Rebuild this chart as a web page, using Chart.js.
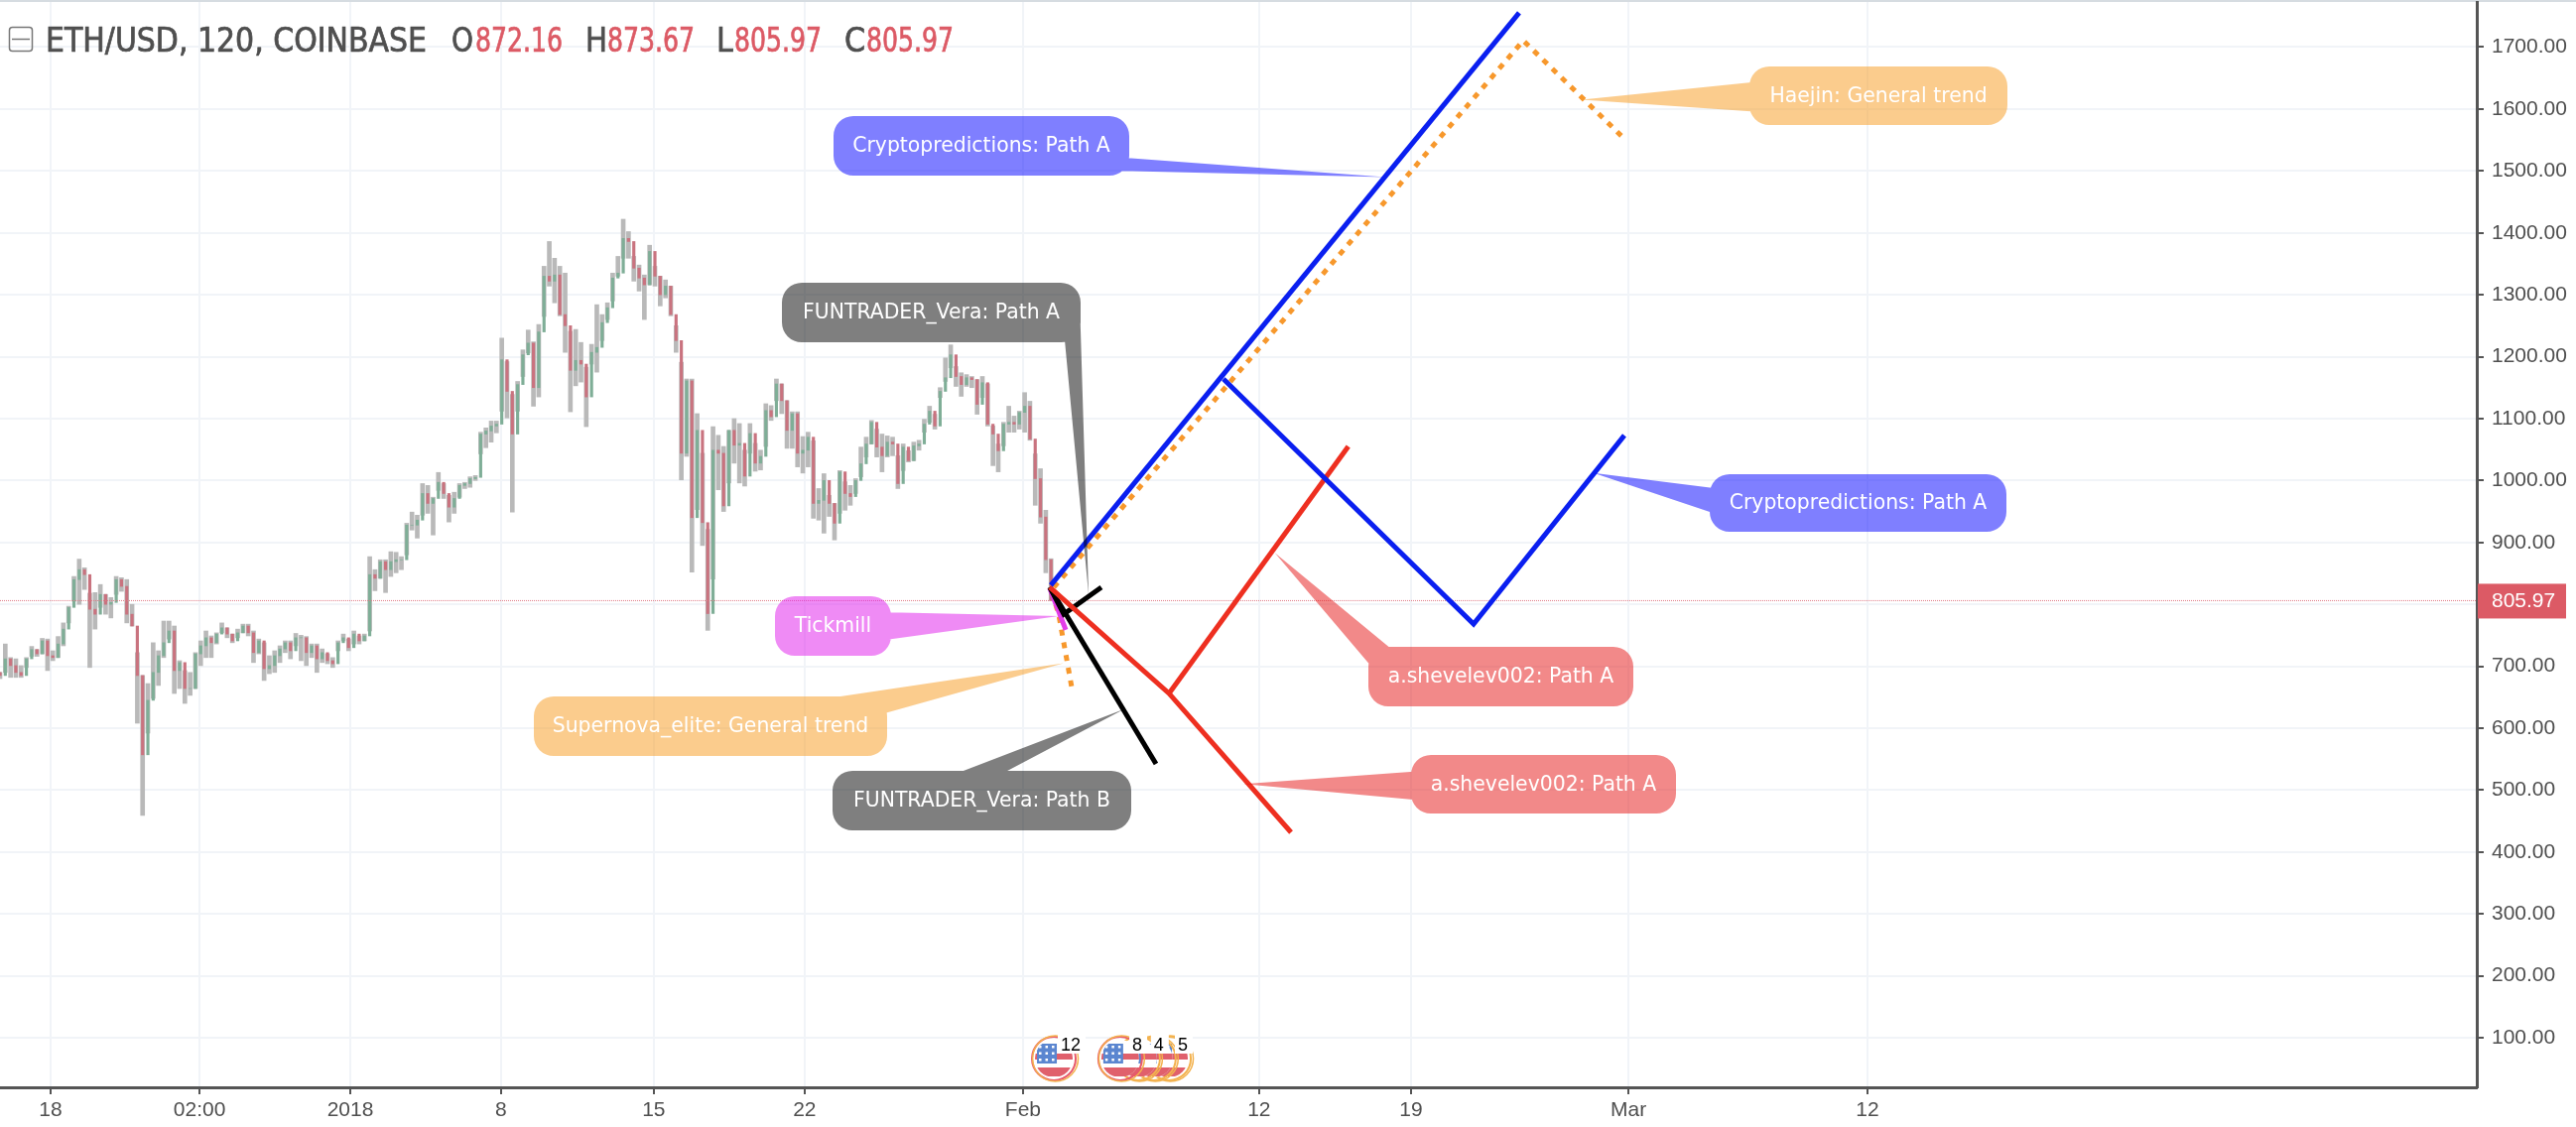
<!DOCTYPE html>
<html>
<head>
<meta charset="utf-8">
<title>ETH/USD</title>
<script src="https://cdn.jsdelivr.net/npm/chart.js@4/dist/chart.umd.min.js"></script>
<style>
    html, body { margin: 0; padding: 0; background: #fff; }
    canvas { display: block; }
</style>
</head>
<body>
<canvas id="chart" width="2596" height="1136"></canvas>
<script>
// price bars, one every barStep days
const closes = [
    685,712,701,690,685,712,727,720,741,717,714,736,760,795,840,856,848,792,784,816,800,803,840,829,784,765,685,557,645,690,717,738,757,693,706,664,664,720,733,746,738,752,762,752,741,754,765,754,722,741,696,
    701,717,728,738,725,746,746,722,733,712,722,709,704,738,746,730,752,741,749,848,842,869,856,869,872,872,928,928,936,979,963,971,997,979,957,971,992,995,1003,1005,1075,1080,1088,1091,1195,1144,1075,1155,1203,1222,1150,
    1240,1330,1322,1332,1268,1250,1178,1194,1188,1135,1207,1215,1255,1279,1327,1335,1391,1386,1343,1327,1316,1370,1330,1300,1314,1268,1226,1044,1161,940,1081,932,785,1049,1044,959,1081,1057,1060,1007,1076,1028,1039,1113,1103,1156,1129,1081,1108,1044,1049,
    1070,963,968,1000,963,931,1014,979,974,1000,1027,1059,1094,1054,1040,1062,1059,995,1054,1032,1056,1059,1091,1112,1088,1144,1166,1203,1168,1155,1166,1163,1123,1158,1091,1075,1048,1091,1094,1091,1110,1120,1067,1003,941,872.16,805.97
];
const highs = [
    690,736,714,712,701,714,732,727,745,744,725,748,770,797,845,873,859,818,819,832,816,811,845,843,840,800,722,685,672,738,725,773,773,765,709,693,690,722,741,757,749,754,770,762,752,760,768,768,757,744,738,
    717,725,733,741,741,753,750,748,736,736,728,720,714,741,752,744,757,749,752,877,856,872,872,885,884,877,931,949,944,995,992,973,1013,995,976,981,995,997,1006,1008,1078,1085,1096,1096,1230,1192,1139,1160,1211,1243,1224,
    1252,1346,1386,1359,1346,1335,1241,1244,1223,1183,1220,1284,1268,1287,1335,1362,1422,1402,1362,1348,1332,1380,1346,1330,1324,1314,1250,1191,1164,1164,1108,1044,921,1087,1073,1055,1081,1100,1092,1049,1092,1060,1049,1124,1121,1164,1156,1129,1111,1111,1071,
    1078,1064,987,1011,976,963,1016,998,992,1003,1054,1070,1097,1083,1075,1072,1070,1040,1059,1048,1062,1065,1099,1120,1107,1150,1198,1219,1184,1174,1171,1168,1163,1168,1156,1088,1059,1094,1120,1104,1112,1142,1128,1043,1019,952,873.67
];
const lows = [
    680,690,682,682,682,698,716,716,720,693,709,714,733,770,805,800,824,698,760,795,784,778,816,821,770,765,608,459,592,648,669,714,744,656,664,640,653,664,701,714,714,736,754,746,738,746,754,749,706,720,677,
    688,690,706,722,712,733,709,701,714,690,706,704,698,725,741,725,736,736,741,757,822,842,819,845,851,856,880,920,907,944,947,912,984,971,933,947,973,987,989,1000,1043,1053,1062,1077,1112,1101,949,1112,1168,1206,1120,
    1135,1265,1314,1287,1266,1207,1111,1153,1159,1087,1188,1175,1226,1260,1290,1330,1359,1359,1322,1306,1260,1316,1314,1282,1295,1266,1207,1001,1039,852,953,895,758,841,985,950,996,1028,996,991,1044,1015,1017,1055,1097,1129,1108,1052,1052,1022,1012,
    1022,939,936,915,942,904,947,952,960,979,1006,1038,1059,1038,1014,1038,1040,987,1016,1030,1032,1049,1078,1094,1083,1134,1160,1182,1152,1136,1152,1150,1107,1134,1088,1024,1014,1056,1078,1078,1083,1078,1065,960,931,851,805.97
];
const firstOpen = 690;
const lastPrice = 805.97;
const headerValues = ['872.16', '873.67', '805.97', '805.97'];

// axes: x is in days counted from 1 Jan 2018
const xTickDays = [-13.87, -6.98, 0, 6.98, 14.05, 21.03, 31.14, 42.07, 49.1, 59.17, 70.23];
const xTickLabels = ['18', '02:00', '2018', '8', '15', '22', 'Feb', '12', '19', 'Mar', '12'];
const yTickValues = [100, 200, 300, 400, 500, 600, 700, 800, 900, 1000, 1100, 1200, 1300, 1400, 1500, 1600, 1700];

// forecast paths as [day, price]
const blueRise = [[32.43, 830.8], [54.11, 1755.4]];
const blueSwing = [[40.42, 1164], [52.0, 768.3], [58.98, 1072.8]];
const orangeTrend = [[32.57, 827.6], [54.3, 1710.6], [59.03, 1550.3]];
const orangeDrop = [[32.48, 819.6], [32.8, 782.7], [33.39, 667.3]];
const redDrop = [[32.38, 827.6], [37.9, 656.1], [43.55, 431.7]];
const redRise = [[37.9, 656.1], [46.2, 1055]];
const blackPathA = [[32.38, 827.6], [33.03, 784.3], [34.77, 827.6]];
const blackPathB = [[32.38, 827.6], [37.3, 542.3]];
const magentaPath = [[32.38, 826], [33.12, 758.7]];

// economic event badges and the counts printed over them
const eventDays = [32.57, 35.64, 36.47, 37.2, 37.9];
const eventCountDays = [32.89, 36.2, 37.2, 38.31];
const eventCounts = ['12', '8', '4', '5'];

const BAR_START = -16.215;
const BAR_STEP = 0.2445;

const upColor = '#7fae97';
const downColor = '#c9737f';
const wickColor = '#b9b9b9';
const gridColor = '#f1f4f8';
const axisColor = '#555555';
const textColor = '#4f4f4f';
const priceRed = '#dc5a65';

const barDays = closes.map((_, i) => BAR_START + i * BAR_STEP);
const opens = closes.map((_, i) => (i === 0 ? firstOpen : closes[i - 1]));

// speech bubbles: rounded box in canvas px, tail tip as [day, price], tail root inside the box
const callouts = [
    { text: 'Cryptopredictions: Path A', fill: 'rgba(0,0,255,0.5)', box: [840, 117, 1138, 177], tip: [47.9, 1490], base: [[1120, 158], [1120, 172]] },
    { text: 'Haejin: General trend', fill: 'rgba(247,153,28,0.5)', box: [1763, 67, 2023, 126], tip: [57.0, 1615], base: [[1775, 82], [1775, 113]] },
    { text: 'Cryptopredictions: Path A', fill: 'rgba(0,0,255,0.5)', box: [1723, 478, 2022, 536], tip: [57.55, 1012], base: [[1735, 493], [1735, 520]] },
    { text: 'a.shevelev002: Path A', fill: 'rgba(229,19,19,0.5)', box: [1379, 652, 1646, 712], tip: [42.8, 883], base: [[1425, 673], [1400, 693]] },
    { text: 'a.shevelev002: Path A', fill: 'rgba(229,19,19,0.5)', box: [1422, 761, 1689, 820], tip: [41.35, 510], base: [[1435, 777], [1435, 807]] },
    { text: 'Supernova_elite: General trend', fill: 'rgba(247,153,28,0.5)', box: [538, 702, 894, 762], tip: [33.02, 705], base: [[800, 709], [870, 725]] },
    { text: 'FUNTRADER_Vera: Path B', fill: 'rgba(0,0,0,0.5)', box: [839, 777, 1140, 837], tip: [35.83, 631], base: [[950, 785], [1000, 785]] },
    { text: 'FUNTRADER_Vera: Path A', fill: 'rgba(0,0,0,0.5)', box: [788, 285, 1089, 345], tip: [34.18, 815], base: [[1069, 300], [1088, 300]] },
    { text: 'Tickmill', fill: 'rgba(224,24,236,0.5)', box: [781, 601, 898, 661], tip: [32.8, 781], base: [[885, 617], [885, 646]] }
];

function toPoints(pairs) {
    return pairs.map(([x, y]) => ({ x, y }));
}

function pathDataset(pairs, color, width, dash) {
    return {
        type: 'line',
        data: toPoints(pairs),
        borderColor: color,
        borderWidth: width,
        borderDash: dash || [],
        borderCapStyle: 'butt',
        pointRadius: 0,
        tension: 0,
        order: 1
    };
}

const calloutPlugin = {
    id: 'callouts',
    afterDatasetsDraw(chart) {
        const { ctx, scales } = chart;
        callouts.forEach(c => {
            const [x0, y0, x1, y1] = c.box;
            const tipX = scales.x.getPixelForValue(c.tip[0]);
            const tipY = scales.y.getPixelForValue(c.tip[1]);
            let [a, b] = c.base;
            // keep the tail wound the same way as the box so the overlap stays filled
            const turn = (b[0] - a[0]) * (tipY - a[1]) - (b[1] - a[1]) * (tipX - a[0]);
            if (turn < 0) [a, b] = [b, a];
            ctx.save();
            ctx.fillStyle = c.fill;
            ctx.beginPath();
            ctx.roundRect(x0, y0, x1 - x0, y1 - y0, 20);
            ctx.moveTo(a[0], a[1]);
            ctx.lineTo(b[0], b[1]);
            ctx.lineTo(tipX, tipY);
            ctx.closePath();
            ctx.fill();
            ctx.fillStyle = '#ffffff';
            ctx.font = '20.4px "DejaVu Sans"';
            ctx.textAlign = 'center';
            ctx.textBaseline = 'middle';
            ctx.fillText(c.text, (x0 + x1) / 2, (y0 + y1) / 2 + 1);
            ctx.restore();
        });
    }
};

// small US flag badge inside a ring
function drawEventBadge(ctx, x, y, ringColor) {
    ctx.save();
    ctx.beginPath();
    ctx.arc(x, y, 19, 0, Math.PI * 2);
    ctx.clip();
    ctx.fillStyle = '#fff';
    ctx.fillRect(x - 20, y - 20, 40, 40);
    ctx.fillStyle = '#e0606c';
    ctx.fillRect(x - 20, y - 5, 40, 6);
    ctx.fillRect(x - 20, y + 9, 40, 9);
    ctx.fillStyle = '#5b86d0';
    ctx.fillRect(x - 17, y - 15, 20, 20);
    ctx.fillStyle = '#fff';
    for (let r = 0; r < 3; r++) {
        for (let c = 0; c < 3; c++) {
            ctx.fillRect(x - 15 + c * 6.5, y - 13 + r * 6.5, 2.5, 2.5);
        }
    }
    ctx.restore();
    ctx.strokeStyle = ringColor;
    ctx.lineWidth = 2;
    ctx.beginPath();
    ctx.arc(x, y, 22, 0, Math.PI * 2);
    ctx.stroke();
    ctx.strokeStyle = '#f3b24e';
    ctx.lineWidth = 1.5;
    ctx.beginPath();
    ctx.arc(x + 1.5, y, 23, 0, Math.PI * 2);
    ctx.stroke();
}

const decorPlugin = {
    id: 'decor',
    beforeDraw(chart) {
        const { ctx } = chart;
        ctx.save();
        ctx.fillStyle = '#fff';
        ctx.fillRect(0, 0, chart.width, chart.height);
        ctx.fillStyle = '#d6dce1';
        ctx.fillRect(0, 0, chart.width, 2);
        ctx.restore();
    },
    afterDraw(chart) {
        const { ctx, scales } = chart;
        ctx.save();

        // collapse button and symbol header
        ctx.strokeStyle = '#777';
        ctx.lineWidth = 1.5;
        ctx.beginPath();
        ctx.roundRect(9.5, 27.5, 23, 24, 3);
        ctx.moveTo(12, 39.5);
        ctx.lineTo(30, 39.5);
        ctx.stroke();

        ctx.textBaseline = 'alphabetic';
        ctx.textAlign = 'left';
        ctx.font = '33.5px "DejaVu Sans Condensed"';
        ctx.lineWidth = 0.7;
        const heavyText = (str, x, color, maxWidth) => {
            ctx.fillStyle = color;
            ctx.strokeStyle = color;
            ctx.fillText(str, x, 52, maxWidth);
            ctx.strokeText(str, x, 52, maxWidth);
        };
        heavyText('ETH/USD, 120, COINBASE', 46, textColor, 384);
        [['O', 455, 479], ['H', 590, 612], ['L', 722, 740], ['C', 851, 873]].forEach(([name, nameX, valueX], i) => {
            heavyText(name, nameX, textColor, 22);
            heavyText(headerValues[i], valueX, priceRed, 88);
        });

        // last price tag on the axis
        const tagY = scales.y.getPixelForValue(lastPrice);
        ctx.fillStyle = priceRed;
        ctx.fillRect(2497, tagY - 17, 89, 35);
        ctx.fillStyle = '#fff';
        ctx.font = '21px "Liberation Sans"';
        ctx.textAlign = 'left';
        ctx.textBaseline = 'middle';
        ctx.fillText(lastPrice.toFixed(2), 2511, tagY + 1);

        // event badges sit just above the time axis, later ones underneath
        for (let i = eventDays.length - 1; i >= 0; i--) {
            drawEventBadge(ctx, scales.x.getPixelForValue(eventDays[i]), 1067, i < 2 ? '#e8596a' : '#f3b24e');
        }
        ctx.font = '18px "Liberation Sans"';
        ctx.textAlign = 'left';
        eventCounts.forEach((count, i) => {
            const x = scales.x.getPixelForValue(eventCountDays[i]);
            ctx.fillStyle = '#fff';
            ctx.fillRect(x - 3, 1043, count.length * 10 + 8, 19);
            ctx.fillStyle = '#000';
            ctx.fillText(count, x, 1054);
        });
        ctx.restore();
    }
};

new Chart(document.getElementById('chart'), {
    data: {
        datasets: [
            pathDataset(blueRise, '#0a1ff0', 5),
            pathDataset(blueSwing, '#0a1ff0', 5),
            pathDataset(redDrop, '#ee2f20', 5),
            pathDataset(redRise, '#ee2f20', 5),
            pathDataset(blackPathB, '#000000', 5),
            pathDataset(blackPathA, '#000000', 5),
            pathDataset(magentaPath, '#e23ce8', 5),
            pathDataset(orangeTrend, '#f7982c', 5, [6, 7]),
            pathDataset(orangeDrop, '#f7982c', 5, [6, 7]),
            {
                type: 'line',
                data: [{ x: -16.215, y: lastPrice }, { x: 98.44, y: lastPrice }],
                borderColor: '#e07b87',
                borderWidth: 1,
                borderDash: [1, 1],
                pointRadius: 0,
                order: 2
            },
            {
                type: 'bar',
                data: barDays.map((x, i) => ({ x, y: [opens[i], closes[i]] })),
                backgroundColor: closes.map((c, i) => (c >= opens[i] ? upColor : downColor)),
                barThickness: 2.5,
                grouped: false,
                order: 3
            },
            {
                type: 'bar',
                data: barDays.map((x, i) => ({ x, y: [lows[i], highs[i]] })),
                backgroundColor: wickColor,
                barThickness: 4,
                grouped: false,
                order: 4
            }
        ]
    },
    options: {
        responsive: false,
        animation: false,
        layout: { autoPadding: false, padding: { top: 2, right: 0, bottom: 0, left: 0 } },
        plugins: { legend: { display: false }, tooltip: { enabled: false } },
        scales: {
            x: {
                type: 'linear',
                min: -16.215,
                max: 98.44,
                offset: false,
                afterFit: scale => { scale.height = 40; scale.paddingLeft = 0; scale.paddingRight = 0; },
                afterBuildTicks: scale => { scale.ticks = xTickDays.map(value => ({ value })); },
                grid: { offset: false, color: gridColor, lineWidth: 2, tickColor: axisColor, tickLength: 7, tickWidth: 2 },
                border: { color: axisColor, width: 3 },
                ticks: {
                    autoSkip: false,
                    maxRotation: 0,
                    padding: 4,
                    color: textColor,
                    font: { family: 'Liberation Sans', size: 21 },
                    callback: (value, index) => xTickLabels[index]
                }
            },
            y: {
                position: 'right',
                min: 19.9,
                max: 1772.9,
                afterFit: scale => { scale.width = 100; scale.paddingTop = 0; scale.paddingBottom = 0; },
                afterBuildTicks: scale => { scale.ticks = yTickValues.map(value => ({ value })); },
                grid: { color: gridColor, lineWidth: 2, tickColor: axisColor, tickLength: 7, tickWidth: 2 },
                border: { color: axisColor, width: 3 },
                ticks: {
                    padding: 8,
                    color: textColor,
                    font: { family: 'Liberation Sans', size: 21 },
                    // 800 sits behind the last price tag
                    callback: value => (value === 800 ? '' : Number(value).toFixed(2))
                }
            }
        }
    },
    plugins: [decorPlugin, calloutPlugin]
});
</script>
</body>
</html>
